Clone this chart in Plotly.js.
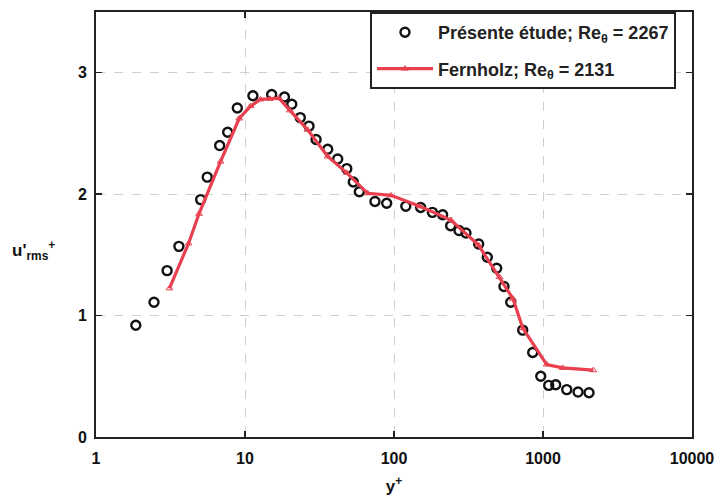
<!DOCTYPE html>
<html>
<head>
<meta charset="utf-8">
<script src="https://cdn.plot.ly/plotly-3.0.1.min.js"></script>
<style>html,body{margin:0;padding:0;background:#fff;}#chart{width:718px;height:504px;}</style>
</head>
<body>
<div id="chart"></div>
<script>
// Présente étude (open circles)
const etudeY = [1.85, 2.45, 3.0, 3.6, 5.04, 5.58, 6.76, 7.65, 8.88, 11.3, 15.1, 18.4, 20.6, 23.5, 26.9, 30.0, 35.9, 41.9, 48.2, 53.3, 58.5, 74.5, 89.3, 120, 151, 181, 212, 240, 273, 304, 370, 423, 489, 547, 607, 731, 853, 966, 1092, 1217, 1443, 1718, 2036];
const etudeU = [0.92, 1.11, 1.37, 1.57, 1.955, 2.14, 2.40, 2.51, 2.71, 2.81, 2.82, 2.80, 2.74, 2.63, 2.56, 2.45, 2.37, 2.29, 2.21, 2.10, 2.02, 1.94, 1.925, 1.90, 1.89, 1.85, 1.83, 1.74, 1.70, 1.68, 1.59, 1.48, 1.39, 1.24, 1.11, 0.88, 0.696, 0.50, 0.425, 0.43, 0.39, 0.37, 0.365];
// Fernholz (red line with triangles)
const fernY = [3.11, 4.18, 4.91, 6.85, 9.14, 10.9, 12.7, 14.7, 16.9, 20.0, 26.3, 35.9, 48.2, 66.6, 95.5, 149, 241, 369, 511, 629, 731, 1059, 1356, 2177];
const fernU = [1.224, 1.594, 1.838, 2.268, 2.623, 2.725, 2.78, 2.785, 2.79, 2.69, 2.53, 2.31, 2.175, 2.007, 1.99, 1.90, 1.787, 1.58, 1.317, 1.138, 0.897, 0.597, 0.569, 0.55];
const xTicks = [1, 10, 100, 1000, 10000];
const xTickText = ['1', '10', '100', '1000', '10000'];
const yTicks = [0, 1, 2, 3];

const FONT = 'Liberation Sans, Arial, sans-serif';
const RED = '#e8404f';

const traces = [
  {
    x: etudeY, y: etudeU, type: 'scatter', mode: 'markers',
    name: '<b>Présente étude; Re<sub>θ</sub> = 2267</b>', legendgroup: 'a',
    marker: {symbol: 'circle-open', size: 9, color: '#111', line: {width: 2.4, color: '#111'}}
  },
  {
    x: fernY, y: fernU, type: 'scatter', mode: 'lines+markers',
    name: '<b>Fernholz; Re<sub>θ</sub> = 2131</b>', legendgroup: 'b',
    line: {color: RED, width: 3.2},
    marker: {symbol: 'triangle-up-open', size: 6, color: RED, line: {width: 1, color: RED}}
  }
];

const axisCommon = {
  showline: true, linecolor: '#222', linewidth: 2, mirror: 'ticks',
  ticks: 'inside', ticklen: 6, tickwidth: 1.5, tickcolor: '#222',
  showgrid: true, gridcolor: '#cfcfcf', griddash: 'dash', gridwidth: 1,
  zeroline: false,
  tickfont: {family: FONT, size: 16, color: '#111', weight: 'bold'}
};

const layout = {
  width: 718, height: 504,
  margin: {l: 96, r: 26, t: 12, b: 67},
  paper_bgcolor: '#fff', plot_bgcolor: '#fff',
  showlegend: true,
  legend: {
    x: 0.4597, y: 1, xanchor: 'left', yanchor: 'top',
    bgcolor: '#fff', bordercolor: '#222', borderwidth: 2,
    font: {family: FONT, size: 18, color: '#222'},
    itemwidth: 56, tracegroupgap: 10
  },
  xaxis: Object.assign({}, axisCommon, {
    type: 'log', range: [0, 4],
    tickvals: xTicks, ticktext: xTickText,
    ticklabelstandoff: 6,
    title: {text: '<b>y<sup>+</sup></b>', font: {family: FONT, size: 17, color: '#111'}, standoff: 14}
  }),
  yaxis: Object.assign({}, axisCommon, {
    range: [0, 3.5], tickvals: yTicks,
    ticklabelstandoff: 4
  }),
  annotations: [{
    xref: 'paper', yref: 'paper', x: -0.145, y: 0.44, xanchor: 'left', yanchor: 'middle',
    showarrow: false,
    text: "<b>u'<sub>rms</sub><sup>+</sup></b>",
    font: {family: FONT, size: 17, color: '#111'}
  }]
};

Plotly.newPlot('chart', traces, layout, {displayModeBar: false, staticPlot: true});
</script>
</body>
</html>
